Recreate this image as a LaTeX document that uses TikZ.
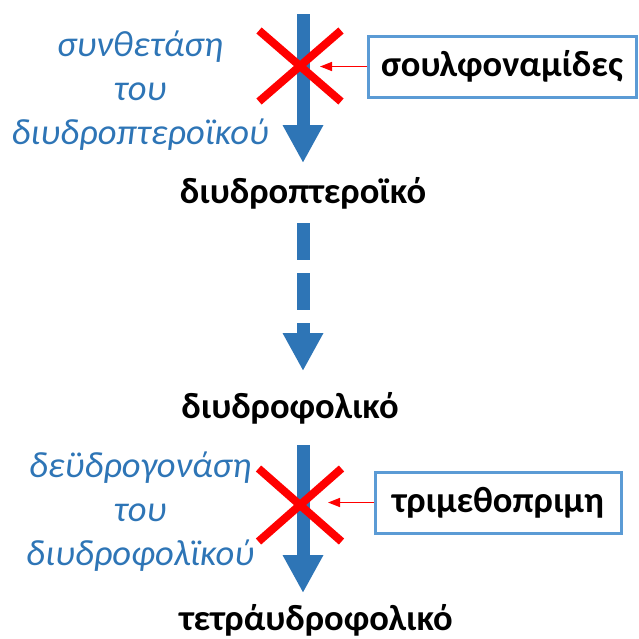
\documentclass[tikz,border=0pt]{standalone}
\usepackage{fontspec}
\setmainfont{Carlito}
\usetikzlibrary{arrows.meta,shapes.misc}
\definecolor{arrowblue}{HTML}{2E75B6}
\definecolor{boxblue}{HTML}{5B9BD5}
\begin{document}
\begin{tikzpicture}[x=1pt,y=-1pt,
  chem/.style={font=\fontsize{36.5}{42}\selectfont\bfseries, inner sep=0pt},
  enzyme/.style={font=\fontsize{36.5}{44}\selectfont\itshape, text=arrowblue, align=center, inner sep=0pt},
  drugbox/.style={draw=boxblue, line width=3pt, font=\fontsize{36.5}{42}\selectfont\bfseries, minimum height=61pt, inner sep=0pt},
  blockarrow/.style={draw=arrowblue, line width=13pt, -{Triangle[length=38pt,width=38pt]}},
  redx/.style={cross out, draw=red, line width=8pt, inner sep=0pt},
  inhib/.style={draw=red, line width=1.5pt, -{Triangle[length=12pt,width=9pt]}}]
\useasboundingbox (0,0) rectangle (639,638);
% metabolites
\coordinate (start) at (303,14);
\node[chem] (dhp) at (303,193) {διυδροπτεροϊκό};
\node[chem] (dhf) at (290,408) {διυδροφολικό};
\node[chem] (thf) at (316,620) {τετράυδροφολικό};
% enzymes
\node[enzyme] (e1) at (140,91) {συνθετάση\\του\\διυδροπτεροϊκού};
\node[enzyme] (e2) at (140,512) {δεϋδρογονάση\\του\\διυδροφολϊκού};
% arrows
\coordinate (tip1) at (303,163);
\coordinate (d1) at (303,223);
\coordinate (tip2) at (303,371);
\coordinate (s3) at (303,445);
\coordinate (tip3) at (303,593);
\draw[blockarrow] (start) -- (tip1);
\draw[blockarrow, dash pattern=on 37pt off 13pt] (d1) -- (tip2);
\draw[blockarrow] (s3) -- (tip3);
% inhibitors
\node[redx, minimum width=74pt, minimum height=63pt] (x1) at (300,66) {};
\node[redx, minimum width=75pt, minimum height=65pt] (x2) at (300,505) {};
\node[drugbox, minimum width=268pt] (sulf) at (502,66.5) {σουλφοναμίδες};
\node[drugbox, minimum width=246pt] (trim) at (498,502.5) {τριμεθοπριμη};
\coordinate (h1) at (320,66.5);
\coordinate (h2) at (328,502.5);
\draw[inhib] (sulf.west) -- (h1);
\draw[inhib] (trim.west) -- (h2);
\end{tikzpicture}
\end{document}
